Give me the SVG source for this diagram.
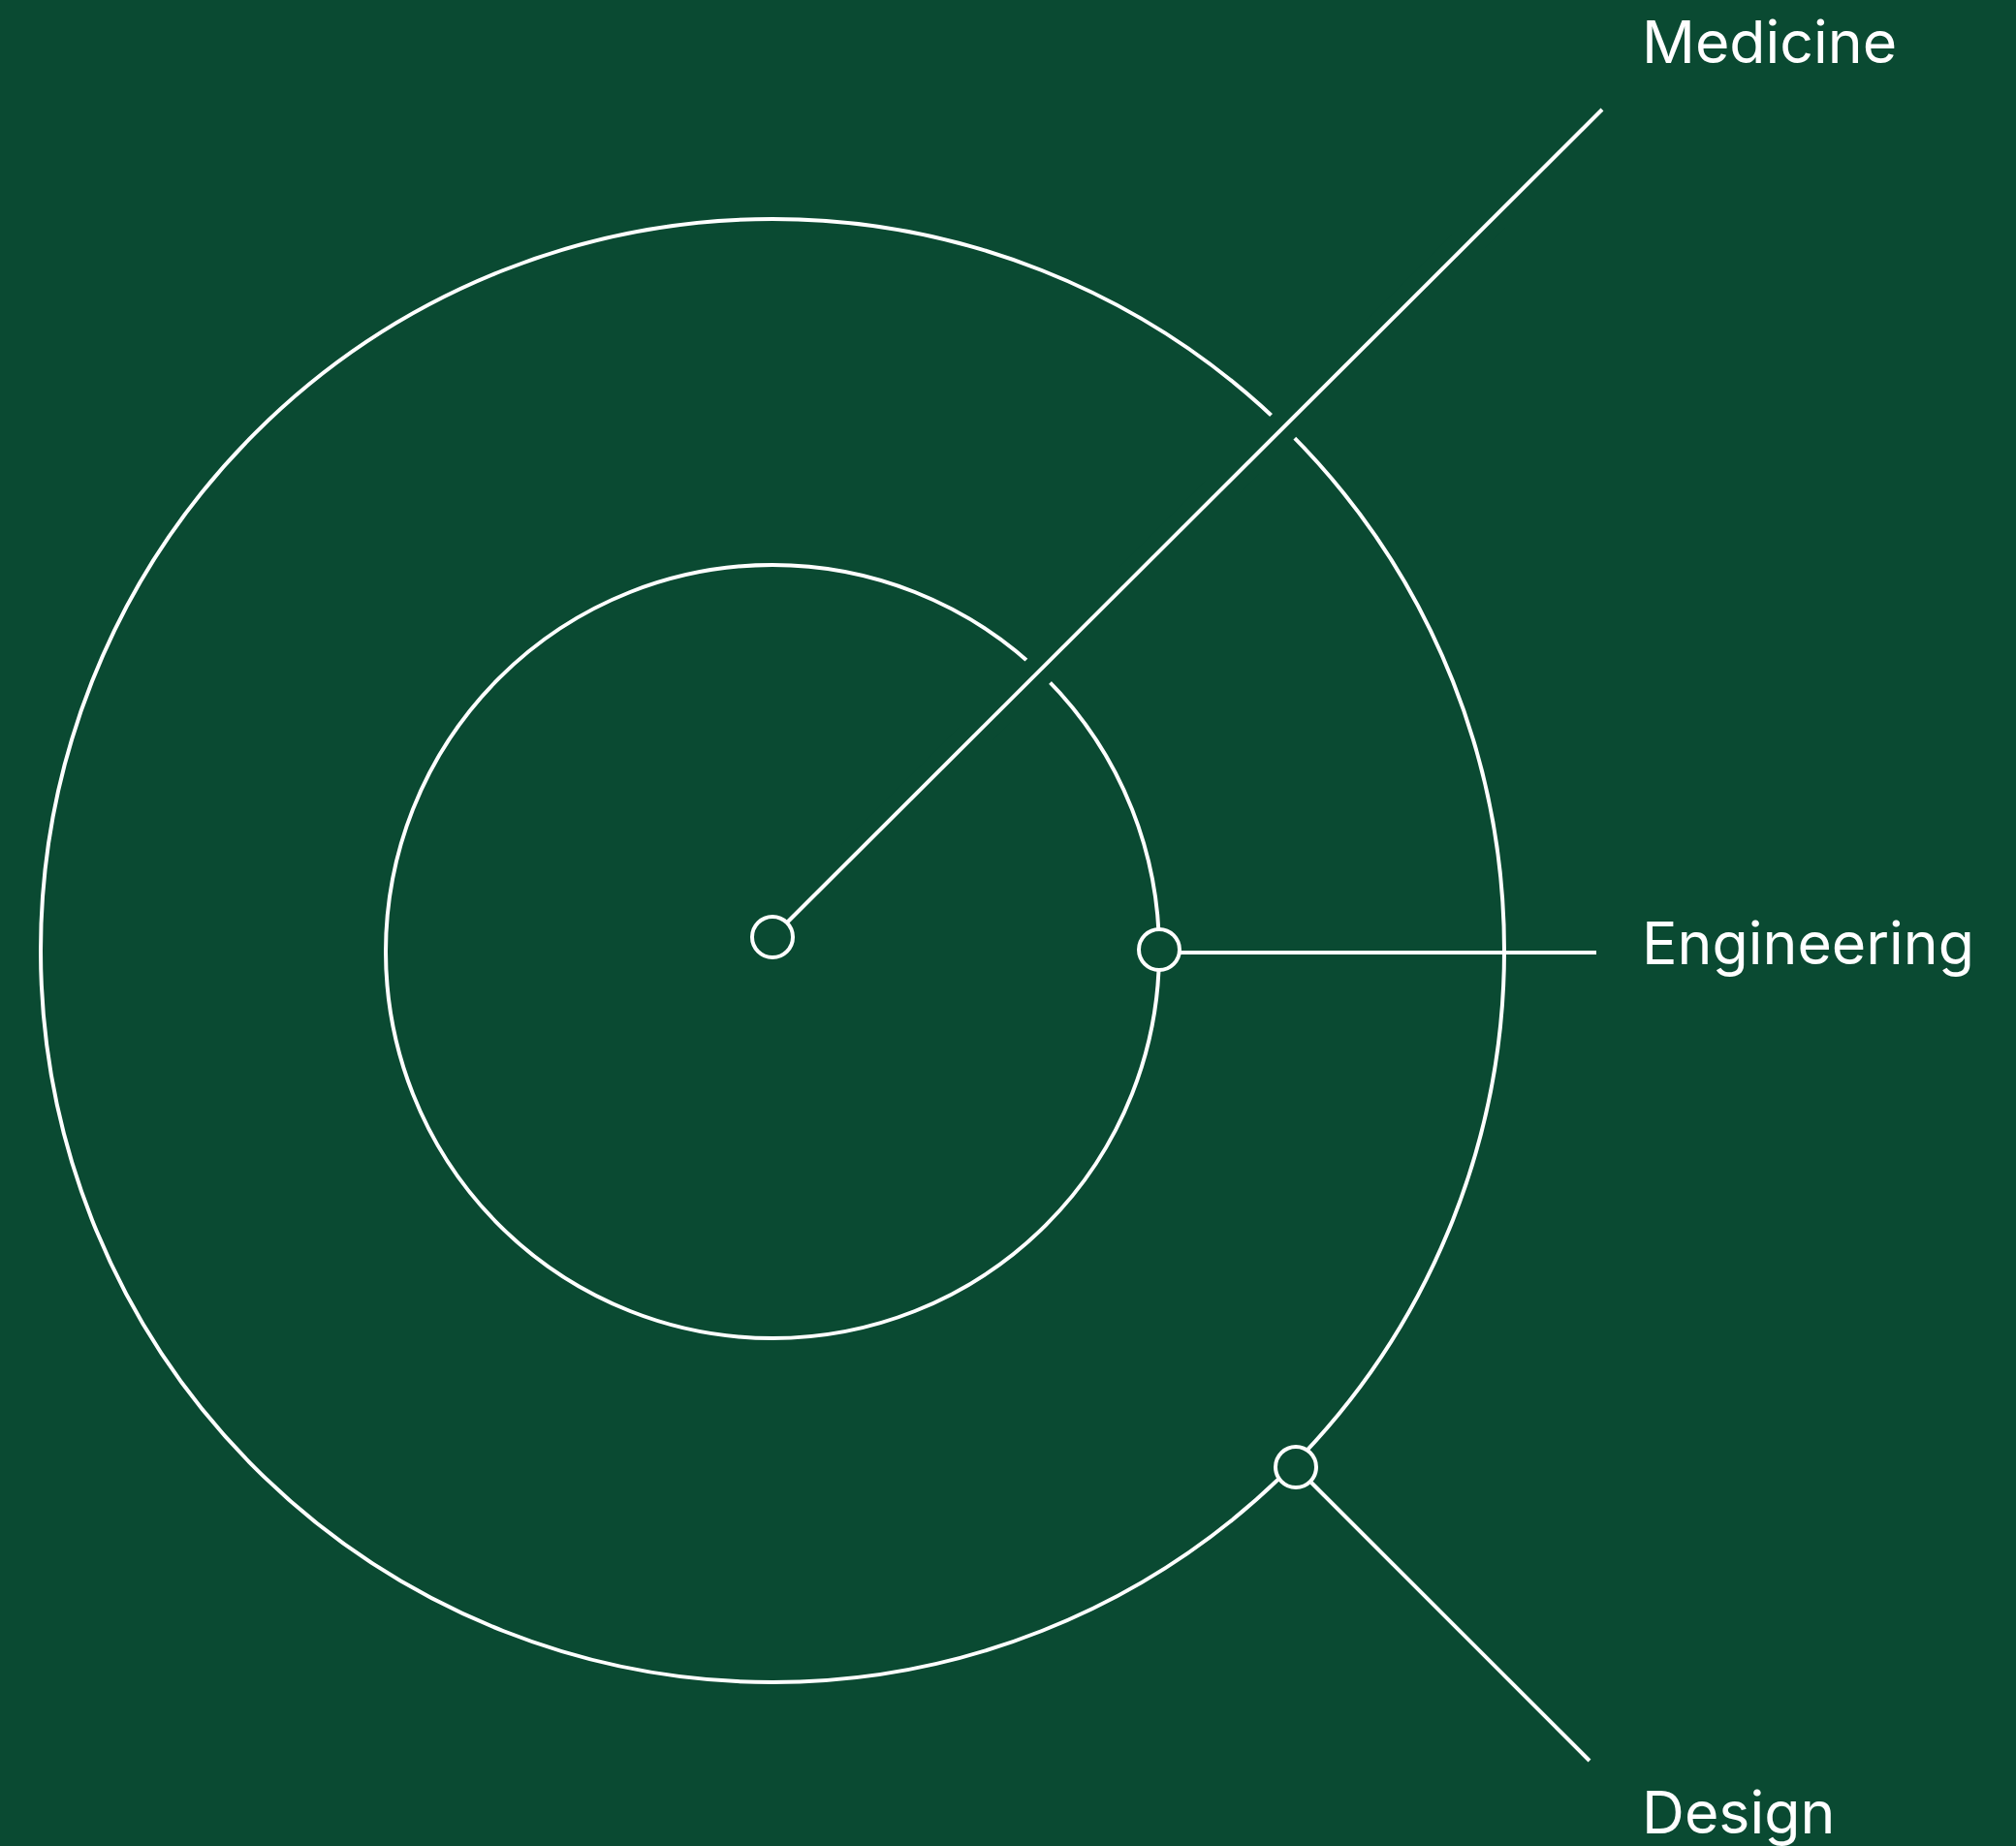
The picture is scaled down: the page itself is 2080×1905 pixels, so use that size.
<svg xmlns="http://www.w3.org/2000/svg" width="2080" height="1905" viewBox="0 0 2080 1905">
<style>
.ring{fill:none;stroke:#FFFFFF;stroke-width:4}
.halo{stroke:#0A4A32;stroke-width:34;fill:none}
.link{stroke:#FFFFFF;stroke-width:4;fill:none}
.node{fill:#0A4A32;stroke:#FFFFFF;stroke-width:4}
.label{font-family:Inter,"Liberation Sans",sans-serif;font-size:60.8px;fill:#FFFFFF}
</style>
<rect width="2080" height="1905" fill="#0A4A32"/>
<g id="rings">
<circle class="ring" cx="797" cy="981" r="755"/>
<circle class="ring" cx="797" cy="982" r="399"/>
</g>
<g id="connectors">
<line class="halo" x1="840" y1="924" x2="1600" y2="164"/>
<line class="link" x1="812" y1="952" x2="1653" y2="113"/>
<line class="link" x1="1218" y1="983" x2="1647" y2="983"/>
<line class="link" x1="1353" y1="1530" x2="1640" y2="1817"/>
</g>
<g id="node-center"><circle class="node" cx="797" cy="967" r="21"/></g>
<g id="node-engineering"><circle class="node" cx="1196" cy="980" r="21"/></g>
<g id="node-design"><circle class="node" cx="1337" cy="1514" r="21"/></g>
<g id="label-medicine"><text class="label" x="1694" y="65">Medicine</text></g>
<g id="label-engineering"><text class="label" x="1694" y="995">Engineering</text></g>
<g id="label-design"><text class="label" x="1694" y="1892">Design</text></g>
</svg>
